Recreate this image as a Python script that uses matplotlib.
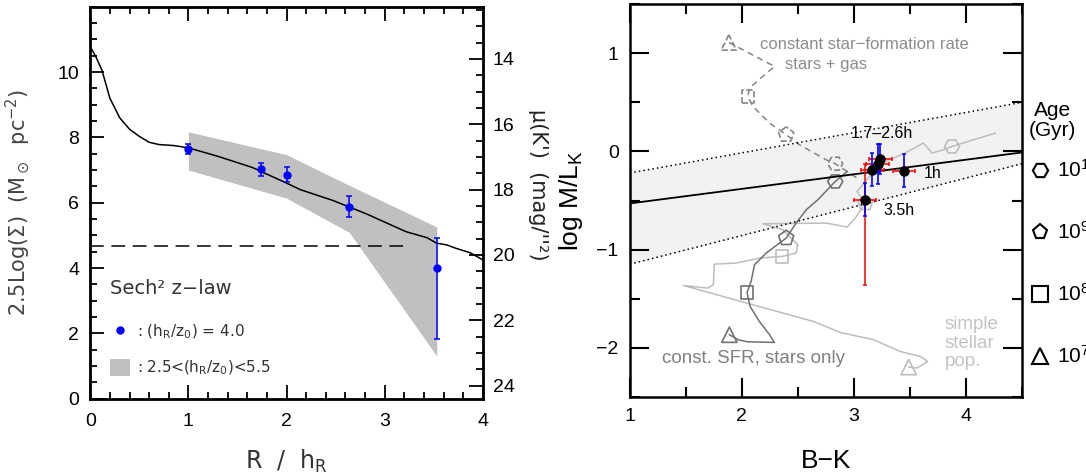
import matplotlib.pyplot as plt
import numpy as np
from matplotlib.lines import Line2D
from matplotlib.patches import Patch
from matplotlib.ticker import MultipleLocator

plt.rcParams['font.family'] = ['Liberation Sans', 'DejaVu Sans']
plt.rcParams['mathtext.fontset'] = 'dejavusans'

# ---------------- left panel: radial profile ----------------
r_model = [0.0, 0.06, 0.12, 0.2, 0.3, 0.4, 0.5, 0.6, 0.7, 0.85, 1.0, 1.3, 1.65,
           2.0, 2.14, 2.48, 2.82, 3.16, 3.22, 3.43, 3.53, 3.63, 3.73, 3.87, 4.0]
sig_model = [10.78, 10.45, 10.05, 9.2, 8.6, 8.25, 8.03, 7.85, 7.78, 7.75, 7.68, 7.42, 7.08,
             6.6, 6.40, 6.06, 5.65, 5.19, 5.11, 4.93, 4.76, 4.71, 4.60, 4.47, 4.25]

r_obs = [1.0, 1.737, 2.003, 2.64, 3.53]
sig_obs = [7.65, 7.03, 6.85, 5.87, 4.01]
sig_err_lo = [0.16, 0.20, 0.23, 0.32, 2.18]
sig_err_hi = [0.16, 0.20, 0.23, 0.32, 0.90]

band_r = [1.0, 2.0, 2.64, 3.53]
band_hi = [8.17, 7.47, 6.53, 5.26]
band_lo = [7.00, 6.14, 5.09, 1.31]

limit_r = [0.0, 3.19]
limit_sig = [4.66, 4.66]
mu_offset = 24.4   # mu(K') = offset - 2.5 log(Sigma)
sig_ticks = [0, 2, 4, 6, 8, 10]

# ---------------- right panel: M/L vs colour ----------------
fit_bk = [1.0, 4.5]
fit_ml = [-0.53, -0.01]
fit_hi = [-0.22, 0.50]
fit_lo = [-1.15, -0.125]

# const SFR, stars + gas (dashed)
gas_bk = [1.884, 2.291, 2.068, 2.054, 2.098, 2.247, 2.396, 2.515, 2.62, 2.753, 2.834, 3.028]
gas_ml = [1.111, 0.867, 0.646, 0.561, 0.459, 0.29, 0.170, 0.068, 0.0, -0.085, -0.125, -0.271]
# const SFR, stars only
sfr_bk = [1.889, 1.97, 2.05, 2.291, 2.247, 2.157, 2.074, 2.047, 2.083, 2.113, 2.217, 2.396,
          2.485, 2.575, 2.679, 2.834, 2.94]
sfr_ml = [-1.868, -1.92, -1.94, -1.947, -1.868, -1.733, -1.58, -1.437, -1.325, -1.155, -1.036,
          -0.883, -0.73, -0.594, -0.492, -0.306, -0.204]
# simple stellar population
ssp_bk = [3.489, 3.564, 3.659, 3.594, 3.415, 3.176, 2.878, 2.64, 2.045, 1.478, 1.696, 1.746,
          1.755, 1.949, 2.157, 2.36, 2.485, 2.50, 2.44, 2.366, 2.188, 2.40, 2.753, 2.94, 3.013,
          3.06, 3.102, 3.028, 3.117, 3.25, 3.45, 3.62, 3.698, 3.80, 3.876, 4.07, 4.264]
ssp_ml = [-2.198, -2.208, -2.14, -2.09, -2.039, -1.919, -1.845, -1.733, -1.546, -1.366, -1.393,
          -1.359, -1.148, -1.138, -1.087, -1.07, -1.036, -0.95, -0.883, -0.798, -0.737, -0.735,
          -0.73, -0.77, -0.679, -0.60, -0.526, -0.408, -0.288, -0.12, -0.02, 0.085, -0.016,
          0.017, 0.051, 0.12, 0.187]

# age markers along tracks: 1e7, 1e8, 1e9, 1e10 yr
age_markers = ['^', 's', 'p', 'H']
age_sizes = [11, 9, 11.4, 10.8]
age_labels = [r'$\mathregular{10^{7}}$', r'$\mathregular{10^{8}}$',
              r'$\mathregular{10^{9}}$', r'$\mathregular{10^{10}}$']
gas_age_bk = [1.884, 2.054, 2.396, 2.834]
gas_age_ml = [1.111, 0.561, 0.170, -0.125]
sfr_age_bk = [1.889, 2.047, 2.396, 2.834]
sfr_age_ml = [-1.868, -1.437, -0.883, -0.306]
ssp_age_bk = [3.489, 2.36, 3.102, 3.876]
ssp_age_ml = [-2.198, -1.07, -0.526, 0.051]

# galaxy measurements (1h, 1.7h, 2.0h, 2.6h, 3.5h)
obs_bk = [3.45, 3.166, 3.236, 3.212, 3.102]
obs_ml = [-0.197, -0.187, -0.078, -0.129, -0.492]
obs_bk_err = [0.10, 0.10, 0.10, 0.10, 0.10]
obs_ml_err_blue = [0.17, 0.17, 0.15, 0.20, 0.17]
obs_ml_err_red_lo = [0.04, 0.04, 0.04, 0.04, 0.874]
obs_ml_err_red_hi = [0.04, 0.04, 0.04, 0.04, 0.36]

fig = plt.figure(figsize=(10.86, 4.72), dpi=100)

# =========================== LEFT ===========================
ax1 = fig.add_axes([0.0831, 0.1553, 0.3615, 0.8305])
ax1.fill_between(band_r, band_lo, band_hi, color='#c0c0c0', lw=0, zorder=1)
ax1.plot(r_model, sig_model, color='black', lw=1.1, zorder=3)
ax1.plot(limit_r, limit_sig, color='black', lw=1.1, dashes=(9, 5), zorder=3)
ax1.errorbar(r_obs, sig_obs, yerr=[sig_err_lo, sig_err_hi], fmt='o', color='#0000ff',
             ms=5, elinewidth=1.1, capsize=2.5, capthick=1.1, zorder=4)

ax1.set_xlim(0, 4)
ax1.set_ylim(0, 12)
ax1.xaxis.set_major_locator(MultipleLocator(1))
ax1.xaxis.set_minor_locator(MultipleLocator(0.2))
ax1.set_yticks(sig_ticks)
ax1.yaxis.set_minor_locator(MultipleLocator(0.5))
ax1.tick_params(which='both', direction='in', top=True, right=False, width=1.3,
                labelsize=14)
ax1.tick_params(which='major', length=10, pad=8)
ax1.tick_params(which='minor', length=5)
ax1.tick_params(axis='x', pad=10)
for s in ax1.spines.values():
    s.set_linewidth(2)

ax1.set_xlabel(r'R  /  h$_\mathrm{R}$', fontsize=17, family='DejaVu Sans', color='#333333')
ax1.xaxis.set_label_coords(0.5, -0.125)
ax1.set_ylabel(r'2.5Log($\Sigma$)  (M$_\odot$  pc$^{-2}$)', fontsize=15,
               family='DejaVu Sans', color='#444444')
ax1.yaxis.set_label_coords(-0.148, 0.5)

mu = ax1.twinx()
mu.set_ylim(mu_offset - 0, mu_offset - 12)
mu.yaxis.set_major_locator(MultipleLocator(2))
mu.yaxis.set_minor_locator(MultipleLocator(0.5))
mu.tick_params(which='both', direction='in', width=1.3, labelsize=14)
mu.tick_params(which='major', length=10, pad=7)
mu.tick_params(which='minor', length=5)
mu.set_ylabel("\u03bc(K')  (mag/''\u00b2)", fontsize=15, family='DejaVu Sans',
              rotation=270, color='#222222')
mu.yaxis.set_label_coords(1.165, 0.545)

# legend: title written separately so its gap can follow the reference
ax1.text(0.05, 0.282, 'Sech\u00b2 z\u2212law', transform=ax1.transAxes, fontsize=14,
         family='DejaVu Sans', color='#333333', ha='left', va='center')
h_dot = Line2D([], [], marker='o', ls='none', color='#0000ff', ms=5)
h_band = Patch(facecolor='#c0c0c0', edgecolor='none')
leg1 = ax1.legend([h_dot, h_band],
                  [r': (h$_\mathrm{R}$/z$_0$) = 4.0', r': 2.5<(h$_\mathrm{R}$/z$_0$)<5.5'],
                  loc='lower left', bbox_to_anchor=(0.05, 0.055), frameon=False,
                  borderpad=0, borderaxespad=0, handlelength=1.3, handleheight=1.3,
                  handletextpad=0.5, labelspacing=1.15,
                  prop={'family': 'DejaVu Sans', 'size': 11})
for t in leg1.get_texts():
    t.set_color('#333333')

# =========================== RIGHT ===========================
ax2 = fig.add_axes([0.5799, 0.1595, 0.3611, 0.8314])
ax2.fill_between(fit_bk, fit_lo, fit_hi, color='#f2f2f2', lw=0, zorder=0)
ax2.plot(fit_bk, fit_hi, color='black', lw=1.1, ls=(0, (1, 2)), zorder=2)
ax2.plot(fit_bk, fit_lo, color='black', lw=1.1, ls=(0, (1, 2)), zorder=2)
ax2.plot(fit_bk, fit_ml, color='black', lw=1.3, zorder=2)

ax2.plot(ssp_bk, ssp_ml, color='#bdbdbd', lw=1.1, zorder=1)
ax2.plot(gas_bk, gas_ml, color='#858585', lw=1.1, dashes=(4, 3), zorder=1)
ax2.plot(sfr_bk, sfr_ml, color='#707070', lw=1.1, zorder=1)

for i in range(4):
    m = age_markers[i]
    sz = age_sizes[i] ** 2
    ax2.scatter(ssp_age_bk[i], ssp_age_ml[i], marker=m, s=sz, facecolors='none',
                edgecolors='#bdbdbd', linewidths=1.2, zorder=1)
    ax2.scatter(gas_age_bk[i], gas_age_ml[i], marker=m, s=sz, facecolors='none',
                edgecolors='#858585', linewidths=1.2, linestyles='--', zorder=1)
    ax2.scatter(sfr_age_bk[i], sfr_age_ml[i], marker=m, s=sz, facecolors='none',
                edgecolors='#707070', linewidths=1.2, zorder=1)

ax2.errorbar(obs_bk, obs_ml, xerr=obs_bk_err, yerr=[obs_ml_err_red_lo, obs_ml_err_red_hi],
             fmt='none', ecolor='#ff0000', elinewidth=1.1, capsize=1.6, capthick=1.1, zorder=3)
ax2.errorbar(obs_bk, obs_ml, yerr=obs_ml_err_blue, fmt='none', ecolor='#0000ff',
             elinewidth=1.2, capsize=1.6, capthick=1.1, zorder=4)
ax2.plot(obs_bk, obs_ml, 'o', color='black', ms=6.5, zorder=5)

track_txt = dict(family='Liberation Sans', fontsize=12, ha='center', va='center')
ax2.text(3.097, 1.088, 'constant star\u2212formation rate', color='#8c8c8c', **track_txt)
ax2.text(2.753, 0.884, 'stars + gas', color='#8c8c8c', **track_txt)
ax2.text(2.104, -2.106, 'const. SFR, stars only', color='#808080', family='Liberation Sans',
         fontsize=13.5, ha='center', va='center')
ax2.text(3.808, -1.953, 'simple\nstellar\npop.', color='#c4c4c4', family='Liberation Sans',
         fontsize=13.5, ha='left', va='center', linespacing=1.1)
pt_txt = dict(family='Liberation Sans', fontsize=11.5, ha='center', va='center', color='black')
ax2.text(3.254, 0.18, '1.7\u20132.6h', **pt_txt)
ax2.text(3.705, -0.22, '1h', **pt_txt)
ax2.text(3.401, -0.60, '3.5h', **pt_txt)

ax2.set_xlim(1, 4.5)
ax2.set_ylim(-2.5, 1.5)
ax2.xaxis.set_major_locator(MultipleLocator(1))
ax2.xaxis.set_minor_locator(MultipleLocator(0.5))
ax2.yaxis.set_major_locator(MultipleLocator(1))
ax2.yaxis.set_minor_locator(MultipleLocator(0.5))
ax2.tick_params(which='both', direction='in', top=True, right=True, width=1.5,
                labelsize=14)
ax2.tick_params(which='major', length=14, pad=8)
ax2.tick_params(which='minor', length=7)
for s in ax2.spines.values():
    s.set_linewidth(1.8)

ax2.set_xlabel('B\u2212K', fontsize=19)
ax2.xaxis.set_label_coords(0.5, -0.134)
ax2.set_ylabel(r'log M/L$_\mathregular{K}$', fontsize=19)
ax2.yaxis.set_label_coords(-0.114, 0.5)

ax2.text(1.077, 0.703, 'Age\n(Gyr)', transform=ax2.transAxes, fontsize=15,
         ha='center', va='center', linespacing=1.05)
age_handles = [Line2D([], [], marker=m, ls='none', markerfacecolor='none',
                      markeredgecolor='black', markeredgewidth=1.5, ms=11)
               for m in age_markers[::-1]]
ax2.legend(age_handles, age_labels[::-1], loc='upper left', bbox_to_anchor=(1.02, 0.605),
           frameon=False, borderpad=0, borderaxespad=0, handlelength=1.0,
           handletextpad=0.3, labelspacing=1.92, fontsize=15)

fig.savefig('out.png', dpi=100)
